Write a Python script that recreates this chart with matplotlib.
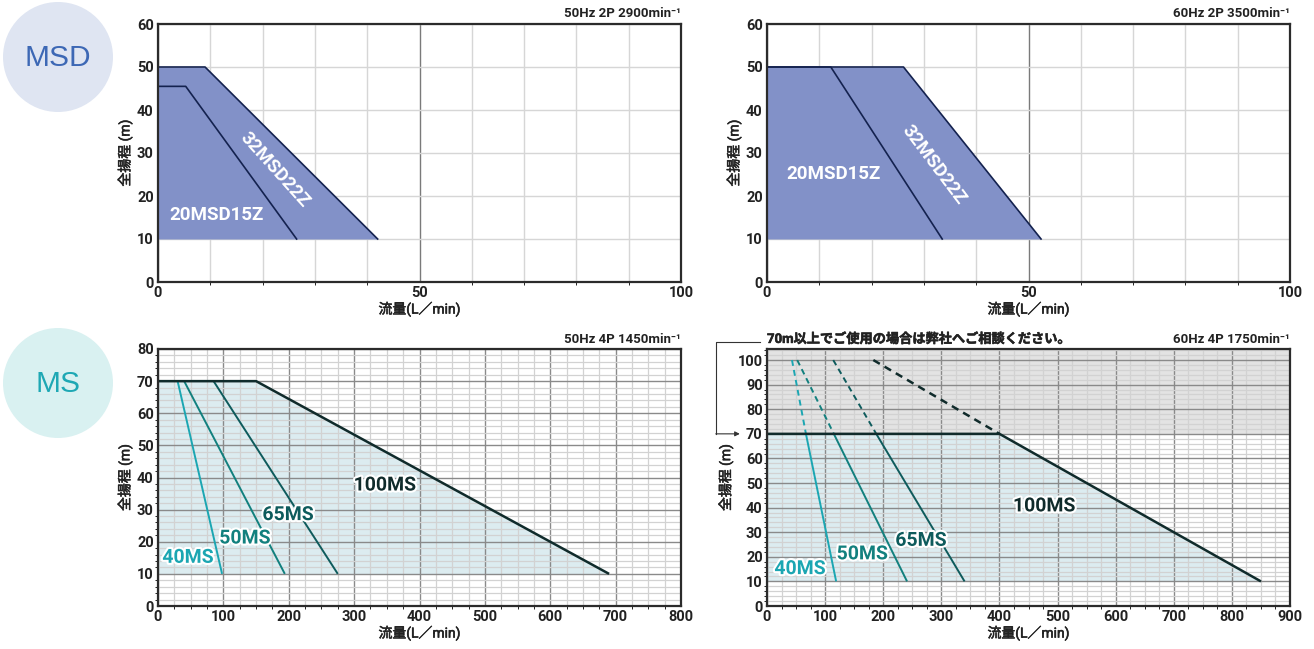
import numpy as np
import matplotlib
matplotlib.use("Agg")
import matplotlib.pyplot as plt
import matplotlib.patheffects as pe
from matplotlib.patches import Circle
from matplotlib.ticker import MultipleLocator

plt.rcParams['font.family'] = ['Roboto', 'Noto Sans CJK JP', 'DejaVu Sans']
plt.rcParams['font.weight'] = 'bold'

# ------------- DATA (flow L/min, total head m) -------------
titles = ['50Hz 2P 2900min⁻¹', '60Hz 2P 3500min⁻¹',
          '50Hz 4P 1450min⁻¹', '60Hz 4P 1750min⁻¹']
note_text = '70m以上でご使用の場合は弊社へご相談ください。'
xlabel = '流量(L／min)'
ylabel = '全揚程 (m)'

msd_names = ['20MSD15Z', '32MSD22Z']
msd50_q = [[0, 5.3, 26.5], [0, 9, 42]]
msd50_h = [[45.5, 45.5, 10], [50, 50, 10]]
msd60_q = [[0, 12.2, 33.5], [0, 26.1, 52.4]]
msd60_h = [[50, 50, 10], [50, 50, 10]]

ms_names = ['40MS', '50MS', '65MS', '100MS']
ms50_q = [[30, 98], [40, 194], [85, 275], [0, 150, 690]]
ms50_h = [[70, 10], [70, 10], [70, 10], [70, 70, 10]]
ms60_q = [[67, 119], [115, 241], [188, 340], [0, 400, 850]]
ms60_h = [[70, 10], [70, 10], [70, 10], [70, 70, 10]]
# above 70 m (consult maker) -> dashed
ms60_dash_q = [[43, 67], [52, 115], [114, 188], [183, 400]]
ms60_dash_h = [[100, 70], [100, 70], [100, 70], [100, 70]]

# ------------- STYLE -------------
msd_fill = '#8291c8'
msd_line = '#14224f'
ms_fill = '#dcecf0'
ms_colors = ['#1ba6b2', '#12807e', '#0e5b5c', '#102b2b']
ms_lw = [1.4, 1.4, 1.4, 1.8]
spine_c = '#2b2b2b'
txt_c = '#222222'
faux_bold = [pe.withStroke(linewidth=0.4, foreground=txt_c)]

msd50_lab = [(11.2, 15.5, 0), (22.4, 26, -48)]
msd60_lab = [(12.8, 25.2, 0), (31.8, 27.2, -53)]
ms50_lab = [(46, 15), (133, 21), (199, 28.3), (347, 37.5)]
ms60_lab = [(57, 15), (164, 21), (265, 26.5), (477, 40.5)]

W, H = 1314, 649
fig = plt.figure(figsize=(W / 100, H / 100), dpi=100)

# background layer for the series badges
bg = fig.add_axes([0, 0, 1, 1], zorder=-5)
bg.set_xlim(0, W)
bg.set_ylim(H, 0)
bg.axis('off')
for (cx, cy), txt, fc, tc in [((58, 57), 'MSD', '#dfe5f2', '#3d68b5'),
                              ((58, 383), 'MS', '#d9f1f1', '#1ea8b4')]:
    bg.add_patch(Circle((cx, cy), 55, color=fc, lw=0))
    bg.text(cx, cy + 1, txt, ha='center', va='center', fontsize=21.5,
            color=tc, fontweight='normal', family='Liberation Sans')

lefts = [158 / W, 767 / W]
width = 523 / W
top_b, top_h = 1 - 282 / H, 258 / H
bot_b, bot_h = 1 - 606 / H, 257 / H


def style_axes(ax):
    for s in ax.spines.values():
        s.set_color(spine_c)
        s.set_linewidth(1.6)
        s.set_zorder(5)
    ax.tick_params(length=0, labelsize=10.5, pad=3, colors=txt_c)
    ax.set_xlabel(xlabel, fontsize=10, labelpad=1, color=txt_c,
                  path_effects=faux_bold)
    ax.set_ylabel(ylabel, fontsize=10, labelpad=3, color=txt_c,
                  path_effects=faux_bold)


def msd_chart(ax, qs, hs, labs, title):
    ax.set_xlim(0, 100)
    ax.set_ylim(0, 60)
    ax.set_xticks([0, 50, 100])
    ax.set_yticks(np.arange(0, 61, 10))
    ax.xaxis.set_minor_locator(MultipleLocator(10))
    ax.set_axisbelow(True)
    ax.grid(which='minor', axis='x', color='#d6d6d6', lw=1)
    ax.grid(which='major', axis='y', color='#d6d6d6', lw=1)
    ax.grid(which='major', axis='x', color='#7a7a7a', lw=1)
    ax.fill_between(qs[1], hs[1], 10, color=msd_fill, lw=0, zorder=1)
    for q, h in zip(qs, hs):
        ax.plot(q, h, color=msd_line, lw=1.2, zorder=3)
    for name, (x, y, r) in zip(msd_names, labs):
        ax.text(x, y, name, color='white', fontsize=13.5, ha='center',
                va='center', rotation=r, rotation_mode='anchor', zorder=4)
    ax.text(1.0, 1.015, title, transform=ax.transAxes, ha='right',
            va='bottom', fontsize=9.5, color=txt_c)
    style_axes(ax)


def ms_chart(ax, qs, hs, labs, title, xmax, ymax, dq=None, dh=None):
    ax.set_xlim(0, xmax)
    ax.set_ylim(0, ymax)
    ax.set_xticks(np.arange(0, xmax + 1, 100))
    ax.set_yticks(np.arange(0, min(ymax, 100) + 1, 10))
    ax.xaxis.set_minor_locator(MultipleLocator(25))
    ax.yaxis.set_minor_locator(MultipleLocator(2))
    ax.set_axisbelow(True)
    ax.grid(which='minor', color='#d2d2d2', lw=0.9)
    ax.grid(which='major', color='#8a8a8a', lw=1.0)
    ax.fill_between(qs[-1], hs[-1], 10, color=ms_fill, lw=0, zorder=0.2)
    if dq is not None:
        ax.axhspan(70, ymax, color='#e3e3e3', lw=0, zorder=0.2)
        for q, h, c, lw in zip(dq, dh, ms_colors, ms_lw):
            ax.plot(q, h, color=c, lw=lw, ls=(0, (3, 2.2)), zorder=3)
    for q, h, c, lw in zip(qs, hs, ms_colors, ms_lw):
        ax.plot(q, h, color=c, lw=lw, zorder=3, solid_capstyle='butt')
    for name, c, (x, y) in zip(ms_names, ms_colors, labs):
        ax.text(x, y, name, color=c, fontsize=14, ha='center', va='center',
                zorder=4, path_effects=[pe.withStroke(linewidth=3, foreground='white')])
    ax.text(1.0, 1.012, title, transform=ax.transAxes, ha='right',
            va='bottom', fontsize=9.5, color=txt_c)
    style_axes(ax)


ax1 = fig.add_axes([lefts[0], top_b, width, top_h])
ax2 = fig.add_axes([lefts[1], top_b, width, top_h])
ax3 = fig.add_axes([lefts[0], bot_b, width, bot_h])
ax4 = fig.add_axes([lefts[1], bot_b, width, bot_h])

msd_chart(ax1, msd50_q, msd50_h, msd50_lab, titles[0])
msd_chart(ax2, msd60_q, msd60_h, msd60_lab, titles[1])
ms_chart(ax3, ms50_q, ms50_h, ms50_lab, titles[2], 800, 80)
ms_chart(ax4, ms60_q, ms60_h, ms60_lab, titles[3], 900, 104.5,
         ms60_dash_q, ms60_dash_h)

# note above the 60Hz 4P chart with bracket arrow pointing to 70 m
ax4.text(0.0, 1.012, note_text, transform=ax4.transAxes, ha='left',
         va='bottom', fontsize=9.5, color=txt_c, path_effects=faux_bold)
tr = ax4.get_yaxis_transform()
ax4.plot([-0.013, -0.097, -0.097], [107.3, 107.3, 70], color='#333333',
         lw=0.8, transform=tr, clip_on=False)
ax4.annotate('', xy=(-0.052, 70), xycoords=tr, xytext=(-0.098, 70),
             textcoords=tr,
             arrowprops=dict(arrowstyle='-|>', color='#333333', lw=0.8,
                             mutation_scale=7, shrinkA=0, shrinkB=0))

fig.savefig('out.png', dpi=100)
